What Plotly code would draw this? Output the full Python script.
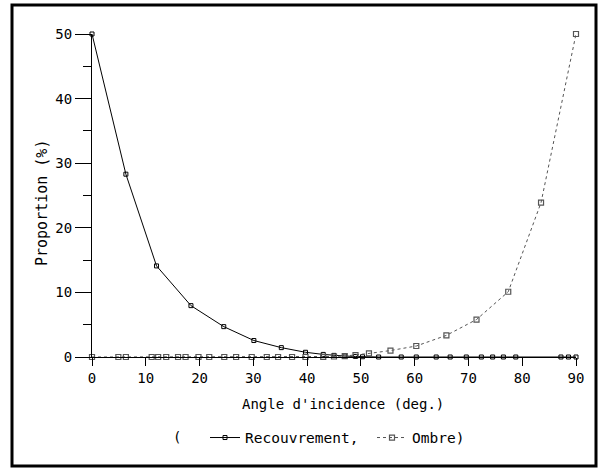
import plotly.graph_objects as go

# Recouvrement (solid line)
rec_x = [0, 6.3, 12, 18.4, 24.5, 30.1, 35.2, 39.7, 43, 45, 47, 49, 50.3,
         53.3, 57.5, 60.3, 64, 66.6, 69.6, 72.4, 74.5, 76.5, 78.8, 87.2, 88.6, 90]
rec_y = [50, 28.3, 14.1, 7.95, 4.7, 2.55, 1.45, 0.73, 0.4, 0.25, 0.15, 0.08, 0.04,
         0, 0, 0, 0, 0, 0, 0, 0, 0, 0, 0, 0, 0]

# Ombre (dotted line)
omb_x = [0, 4.9, 6.3, 11.1, 12.3, 13.8, 16.0, 17.4, 19.8, 21.8, 24.6, 26.8, 29.7,
         32.5, 34.6, 37.2, 39.7, 43, 45, 47, 49, 51.5, 55.5, 60.3, 65.9, 71.5,
         77.4, 83.5, 90]
omb_y = [0, 0, 0, 0, 0, 0, 0, 0, 0, 0, 0, 0, 0,
         0, 0, 0, 0, 0.03, 0.08, 0.15, 0.28, 0.55, 1.0, 1.7, 3.35, 5.8,
         10.1, 23.9, 50]

x_ticks = [0, 10, 20, 30, 40, 50, 60, 70, 80, 90]
y_ticks = [0, 10, 20, 30, 40, 50]

FONT = "DejaVu Sans Mono"

fig = go.Figure()
fig.add_trace(go.Scatter(
    x=rec_x, y=rec_y, mode="lines+markers", name="Recouvrement,",
    line=dict(color="black", width=1),
    marker=dict(symbol="square-open", size=4, color="black", line=dict(width=1)),
    cliponaxis=False))
fig.add_trace(go.Scatter(
    x=omb_x, y=omb_y, mode="lines+markers", name="Ombre)",
    line=dict(color="#555555", width=1, dash="dot"),
    marker=dict(symbol="square-open", size=5, color="#555555", line=dict(width=1.2)),
    cliponaxis=False))

fig.update_layout(
    width=600, height=471,
    margin=dict(l=92, r=24, t=34, b=114, autoexpand=False),
    paper_bgcolor="white", plot_bgcolor="white",
    font=dict(family=FONT, size=14, color="black"),
    showlegend=True,
    legend=dict(orientation="h", x=(205 - 92)/484, xanchor="left", y=-0.20, yanchor="top",
                font=dict(family=FONT, size=14.5), itemwidth=30,
                entrywidth=122, entrywidthmode="pixels",
                bgcolor="rgba(0,0,0,0)"),
    shapes=[dict(type="rect", xref="paper", yref="paper",
                 x0=-(92 - 12)/484, x1=(596 - 92)/484, y0=-(466 - 357)/323, y1=(357 - 5)/323,
                 line=dict(color="black", width=3), fillcolor="rgba(0,0,0,0)",
                 layer="below")],
    annotations=[
        dict(text="Angle d'incidence (deg.)", xref="paper", yref="paper",
             x=(343 - 92)/484, y=-(404 - 357)/323, showarrow=False,
             xanchor="center", yanchor="middle", font=dict(family=FONT, size=14)),
        dict(text="Proportion (%)", xref="paper", yref="paper",
             x=-(92 - 42)/484, y=(357 - 203)/323, showarrow=False, textangle=-90,
             xanchor="center", yanchor="middle", font=dict(family=FONT, size=15)),
        dict(text="(", xref="paper", yref="paper",
             x=(177 - 92)/484, y=-(437 - 357)/323, showarrow=False,
             xanchor="center", yanchor="middle", font=dict(family=FONT, size=14)),
    ],
)

fig.update_xaxes(
    range=[0, 90], tickvals=x_ticks, ticks="outside", ticklen=8, tickwidth=1,
    tickcolor="black", showline=True, linecolor="black", linewidth=1,
    showgrid=False, zeroline=False, tickfont=dict(family=FONT, size=14))
fig.update_yaxes(
    range=[0, 50], tickvals=y_ticks, ticks="outside", ticklen=16, tickwidth=1,
    tickcolor="black", showline=True, linecolor="black", linewidth=1,
    showgrid=False, zeroline=False, tickfont=dict(family=FONT, size=14),
    minor=dict(tickvals=[5, 15, 25, 35, 45], ticks="outside", ticklen=8,
               tickwidth=1, tickcolor="black", showgrid=False))

fig.write_html("out.html", config={"displayModeBar": False},
               post_script="document.body.style.margin='0';document.body.style.overflow='hidden';")
